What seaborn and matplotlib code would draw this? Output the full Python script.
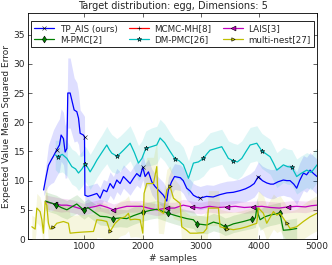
import numpy as np
import pandas as pd
import matplotlib
matplotlib.use("Agg")
import matplotlib.pyplot as plt
import seaborn as sns

# TP_AIS (ours)
blue_x = [300, 350, 383, 430, 470, 527, 573, 601, 641, 670,
          700, 716, 756, 825, 871, 900, 928, 985, 1003, 1010,
          1060, 1128, 1215, 1271, 1329, 1386, 1443, 1500, 1558, 1615,
          1672, 1730, 1787, 1844, 1901, 1959, 2005, 2045, 2102, 2159,
          2216, 2273, 2359, 2417, 2445, 2500, 2550, 2650, 2700, 2760,
          2820, 2875, 2930, 2990, 3100, 3215, 3330, 3450, 3560, 3680,
          3770, 3850, 3920, 3990, 4060, 4135, 4200, 4250, 4330, 4420,
          4480, 4535, 4600, 4650, 4700, 4765, 4820, 4880, 4940, 5000]
blue_y = [8.4, 11.0, 12.6, 13.5, 14.2, 15.3, 16.1, 17.8, 17.2, 14.9,
          15.5, 25.0, 25.0, 22.1, 21.8, 20.7, 18.1, 17.8, 17.5, 7.5,
          7.3, 7.5, 7.8, 7.0, 8.4, 8.1, 9.5, 8.7, 10.1, 9.5,
          10.7, 10.1, 9.5, 10.4, 11.2, 10.7, 12.3, 10.7, 11.5, 9.8,
          9.0, 8.4, 7.5, 6.5, 8.4, 9.8, 10.7, 10.5, 10.0, 8.7,
          8.2, 7.5, 7.2, 7.0, 7.3, 7.2, 7.6, 7.9, 8.0, 8.3,
          8.6, 9.0, 9.5, 10.7, 10.0, 9.6, 9.4, 9.4, 9.8, 10.1,
          10.0, 10.0, 9.4, 8.7, 10.0, 11.3, 11.0, 11.8, 11.2, 10.7]
blue_err = [1.0, 2.5, 3.5, 4.0, 4.5, 4.5, 4.5, 4.5, 4.5, 4.5,
            5.0, 6.0, 6.0, 5.5, 5.0, 4.5, 4.0, 3.5, 3.5, 1.8,
            1.8, 1.8, 1.8, 1.8, 1.8, 1.8, 2.0, 2.0, 2.0, 2.0,
            2.0, 2.0, 2.0, 2.0, 2.0, 2.0, 2.2, 2.2, 2.2, 2.2,
            2.2, 2.2, 2.2, 2.2, 2.2, 2.2, 2.2, 2.2, 2.2, 2.0,
            2.0, 2.0, 2.0, 2.0, 2.0, 2.0, 2.0, 2.0, 2.0, 2.0,
            2.2, 2.2, 2.3, 2.5, 2.5, 2.5, 2.5, 2.5, 2.5, 2.6,
            2.7, 2.8, 2.8, 2.8, 3.0, 3.0, 3.0, 3.0, 3.0, 3.0]
blue_marks = [527, 1003, 2005, 2990, 3990]

# MCMC-MH[8] (not visible inside the axes)
red_x = [-100, -50]
red_y = [4.5, 4.5]
red_err = [2.0, 2.0]
red_marks = []

# LAIS[3]
mag_x = [330, 400, 500, 600, 700, 800, 900, 985, 1100, 1200,
         1271, 1400, 1500, 1600, 1730, 1850, 1988, 2100, 2245, 2417,
         2550, 2700, 2850, 3000, 3150, 3300, 3450, 3600, 3750, 3900,
         4050, 4200, 4350, 4500, 4650, 4800, 4900, 5000]
mag_y = [6.4, 6.2, 6.0, 5.8, 5.8, 5.6, 5.3, 5.1, 5.4, 5.6,
         5.8, 5.4, 5.0, 5.3, 5.6, 5.6, 5.6, 5.3, 5.0, 5.3,
         5.3, 5.8, 5.5, 5.3, 5.6, 5.4, 5.5, 5.6, 5.4, 5.5,
         5.6, 5.4, 5.3, 5.5, 5.6, 5.5, 5.7, 5.8]
mag_err = [1.2, 1.2, 1.2, 1.2, 1.1, 1.1, 1.1, 1.0, 1.0, 1.0,
           1.0, 1.0, 1.0, 1.0, 1.0, 1.0, 1.0, 1.0, 1.0, 1.0,
           1.0, 1.0, 1.0, 1.0, 1.0, 1.0, 1.0, 1.0, 1.0, 1.0,
           1.0, 1.0, 1.0, 1.0, 1.0, 1.0, 1.0, 1.0]
mag_marks = [500, 985, 1500, 2417, 2850, 3450, 3900, 4500]

# M-PMC[2]
green_x = [330, 420, 515, 600, 700, 800, 870, 940, 997, 1060,
           1157, 1271, 1386, 1500, 1615, 1730, 1844, 1930, 2016, 2130,
           2245, 2360, 2445, 2540, 2646, 2760, 2875, 2932, 3020, 3104,
           3219, 3330, 3420, 3490, 3562, 3650, 3734, 3878, 3940, 3964,
           3990, 4021, 4100, 4192, 4290, 4364, 4390, 4421, 4530, 4650]
green_y = [6.5, 6.2, 5.9, 5.4, 5.0, 5.6, 6.0, 5.4, 4.9, 5.4,
           4.7, 3.9, 3.8, 3.5, 3.6, 3.5, 4.0, 4.3, 4.6, 4.9,
           5.1, 4.7, 4.4, 4.1, 3.8, 3.5, 3.3, 2.6, 2.5, 2.4,
           2.9, 2.6, 2.1, 2.3, 2.6, 2.8, 3.0, 3.4, 3.6, 5.3,
           4.2, 3.3, 3.8, 4.1, 4.3, 4.5, 3.0, 1.5, 1.6, 1.8]
green_err = [1.6, 1.6, 1.6, 1.6, 1.6, 1.6, 1.6, 1.6, 1.5, 1.5,
             1.5, 1.5, 1.5, 1.5, 1.5, 1.5, 1.5, 1.5, 1.5, 1.5,
             1.5, 1.5, 1.5, 1.5, 1.5, 1.5, 1.5, 1.5, 1.5, 1.5,
             1.5, 1.5, 1.5, 1.5, 1.5, 1.5, 1.5, 1.6, 1.6, 1.8,
             1.8, 1.8, 1.8, 1.8, 1.8, 1.8, 1.8, 1.8, 1.8, 1.8]
green_marks = [515, 997, 1500, 2016, 2445, 2932, 3420, 3878, 4364]

# DM-PMC[26]
cyan_x = [500, 555, 620, 700, 785, 850, 900, 960, 1014, 1060,
          1100, 1160, 1215, 1300, 1386, 1430, 1472, 1558, 1610, 1672,
          1730, 1787, 1860, 1930, 1990, 2056, 2150, 2245, 2302, 2380,
          2474, 2560, 2630, 2703, 2790, 2875, 2960, 3047, 3100, 3160,
          3260, 3362, 3420, 3476, 3562, 3630, 3706, 3780, 3850, 3964,
          4050, 4120, 4192, 4250, 4308, 4360, 4421, 4490, 4565, 4650,
          4720, 4823, 4900, 5000]
cyan_y = [14.4, 14.1, 14.5, 13.8, 12.4, 12.0, 11.3, 12.0, 12.9, 12.2,
          11.5, 12.5, 13.5, 14.8, 16.1, 15.3, 14.7, 14.2, 14.6, 15.2,
          15.8, 16.4, 14.8, 13.0, 13.8, 15.5, 15.8, 16.1, 17.3, 16.5,
          15.0, 13.7, 13.4, 12.7, 10.4, 13.0, 13.2, 13.8, 14.5, 15.2,
          15.5, 15.8, 14.8, 13.8, 13.4, 13.2, 13.8, 15.0, 16.1, 16.4,
          15.1, 14.6, 14.1, 13.0, 11.8, 12.2, 12.7, 12.4, 12.3, 10.7,
          11.2, 11.8, 11.4, 12.7]
cyan_err = [2.5, 2.8, 3.0, 3.0, 3.0, 3.0, 3.0, 3.0, 3.0, 3.0,
            3.0, 3.0, 3.0, 3.0, 3.2, 3.2, 3.2, 3.0, 3.0, 3.0,
            3.0, 3.0, 3.0, 3.0, 3.0, 3.0, 3.2, 3.2, 3.2, 3.2,
            3.2, 3.2, 3.2, 3.0, 3.0, 3.0, 3.0, 3.0, 3.0, 3.0,
            3.0, 3.0, 3.0, 3.0, 3.0, 3.0, 3.0, 3.0, 3.0, 3.0,
            3.0, 3.0, 3.0, 3.0, 3.0, 3.0, 3.0, 3.0, 3.0, 3.0,
            3.0, 3.0, 3.0, 3.0]
cyan_marks = [555, 1014, 1558, 2056, 2560, 3047, 3562, 4050, 4565]

# multi-nest[27]
yel_x = [98, 155, 184, 240, 270, 297, 326, 355, 383, 412,
         470, 527, 641, 727, 756, 850, 985, 1157, 1215, 1300,
         1386, 1443, 1529, 1615, 1700, 1758, 1787, 1870, 1959, 2005,
         2027, 2073, 2188, 2245, 2273, 2360, 2417, 2474, 2532, 2646,
         2675, 2760, 2818, 2930, 3047, 3104, 3133, 3305, 3333, 3450,
         3562, 3680, 3792, 3964, 3992, 4021, 4078, 4135, 4250, 4308,
         4364, 4479, 4536, 4650, 4765, 4880, 4995]
yel_y = [2.1, 1.7, 5.3, 4.7, 3.3, 1.0, 6.4, 5.8, 2.7, 1.7,
         2.0, 2.7, 3.0, 2.7, 1.0, 1.1, 1.2, 1.3, 3.3, 3.2,
         3.0, 1.3, 2.7, 3.5, 3.8, 4.4, 3.3, 3.4, 3.3, 1.0,
         7.8, 9.5, 9.5, 12.4, 5.0, 4.4, 8.4, 9.0, 7.0, 6.1,
         2.1, 1.5, 1.0, 1.0, 1.1, 1.8, 5.3, 5.3, 2.1, 1.8,
         1.6, 1.8, 2.1, 2.7, 5.3, 5.0, 4.4, 2.7, 4.7, 4.1,
         4.4, 2.7, 1.8, 2.1, 3.0, 3.8, 4.4]
yel_err = [2.0, 2.0, 2.5, 2.5, 2.5, 2.5, 3.0, 3.0, 3.0, 3.0,
           3.0, 3.0, 3.0, 3.0, 3.0, 3.0, 3.0, 3.0, 3.0, 3.0,
           3.0, 3.0, 3.0, 3.0, 3.0, 3.0, 3.0, 3.0, 3.0, 3.0,
           4.0, 4.5, 4.5, 4.5, 4.0, 3.5, 3.5, 3.5, 3.5, 3.0,
           3.0, 3.0, 3.0, 3.0, 3.0, 3.0, 3.0, 3.0, 3.0, 3.0,
           3.0, 3.0, 3.0, 3.0, 3.0, 3.0, 3.0, 3.0, 3.0, 3.0,
           3.0, 3.0, 3.0, 3.0, 3.0, 3.0, 3.0]
yel_marks = [470, 1443, 2474, 3450, 4479]

series = [
    ("TP_AIS (ours)", blue_x, blue_y, blue_err, blue_marks, (0, 0, 1), "x", 3.5),
    ("MCMC-MH[8]", red_x, red_y, red_err, red_marks, (1, 0, 0), "+", 3.5),
    ("LAIS[3]", mag_x, mag_y, mag_err, mag_marks, (0.75, 0, 0.75), "<", 3.5),
    ("M-PMC[2]", green_x, green_y, green_err, green_marks, (0, 0.5, 0), "d", 3.5),
    ("DM-PMC[26]", cyan_x, cyan_y, cyan_err, cyan_marks, (0, 0.75, 0.75), "*", 3.5),
    ("multi-nest[27]", yel_x, yel_y, yel_err, yel_marks, (0.75, 0.75, 0), ">", 2.5),
]

sns.set_style("ticks")
plt.rcParams["font.family"] = ["DejaVu Sans"]
plt.rcParams["font.size"] = 6.5

fig = plt.figure(figsize=(3.32, 2.65), dpi=100)
ax = fig.add_axes([0.084, 0.098, 0.871, 0.853])

for name, xs, ys, es, marks, col, mk, ms in series:
    df = pd.DataFrame({"x": xs, "y": ys, "e": es})
    ax.fill_between(df["x"], df["y"] - df["e"], df["y"] + df["e"],
                    color=col, alpha=0.13, linewidth=0)
    idx = [int(np.argmin(np.abs(df["x"].values - m))) for m in marks]
    sns.lineplot(data=df, x="x", y="y", ax=ax, color=col, linewidth=0.9,
                 marker=mk, markevery=idx, markersize=ms,
                 markeredgecolor="black", markeredgewidth=0.4,
                 label=name, estimator=None)

h, l = ax.get_legend_handles_labels()
order = ["TP_AIS (ours)", "M-PMC[2]", "MCMC-MH[8]", "DM-PMC[26]",
         "LAIS[3]", "multi-nest[27]"]
hd = dict(zip(l, h))
leg = ax.legend([hd[k] for k in order], order, ncol=3, loc="upper center",
                bbox_to_anchor=(0.5, 0.985), fontsize=6.3, frameon=True,
                fancybox=False, edgecolor="black", framealpha=1,
                handlelength=2.3, columnspacing=1.3, borderpad=0.35,
                labelspacing=0.25, handletextpad=0.6, numpoints=1)
leg.get_frame().set_linewidth(0.6)

ax.set_xlim(30, 5000)
ax.set_ylim(0, 38.7)
ax.set_xticks([1000, 2000, 3000, 4000, 5000])
ax.set_yticks([0, 5, 10, 15, 20, 25, 30, 35])
ax.tick_params(direction="in", top=True, right=True, length=3, width=0.5,
               labelsize=6.5, pad=2)
for s in ax.spines.values():
    s.set_linewidth(0.6)
    s.set_color("black")
ax.set_title("Target distribution: egg, Dimensions: 5", fontsize=7, pad=3)
ax.set_xlabel("# samples", fontsize=6.5, labelpad=2)
ax.set_ylabel("Expected Value Mean Squared Error", fontsize=6.5, labelpad=2)

fig.savefig("out.png", dpi=100)
